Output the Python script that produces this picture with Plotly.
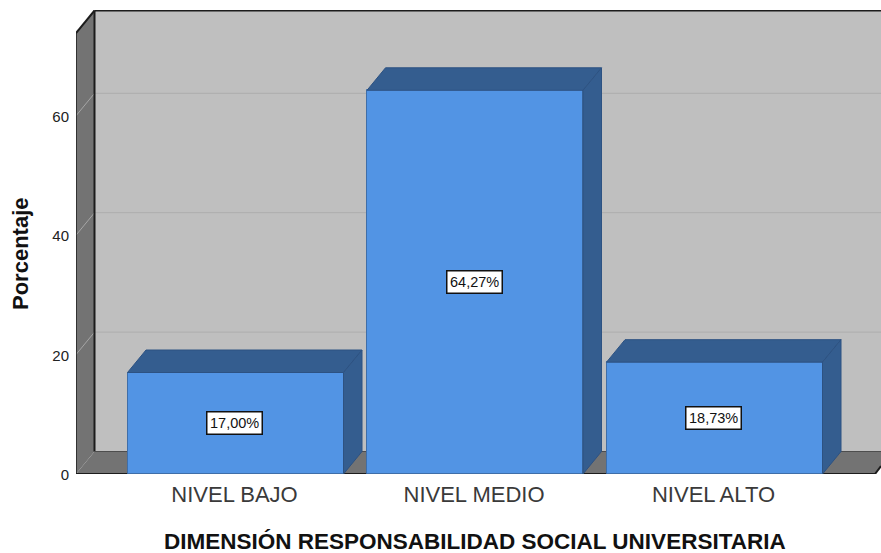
import plotly.graph_objects as go

categories = ["NIVEL BAJO", "NIVEL MEDIO", "NIVEL ALTO"]
values = [17.00, 64.27, 18.73]
labels = ["17,00%", "64,27%", "18,73%"]
y_ticks = [0, 20, 40, 60]
x_title = "DIMENSIÓN RESPONSABILIDAD SOCIAL UNIVERSITARIA"
y_title = "Porcentaje"

W, H = 881, 553
ML, MR, MT, MB = 76, 0, 10, 79
PX_PER_CAT = 239.5
PX_PER_UNIT = 5.97
X_MIN = -(235.5 - ML) / PX_PER_CAT
X_MAX = X_MIN + (W - ML - MR) / PX_PER_CAT
Y_MAX = (H - MB - MT) / PX_PER_UNIT
DX = 18.5 / PX_PER_CAT
DY = 22.5 / PX_PER_UNIT
BAR_W = 216 / 239.5
WALL_TOP = (H - MB - 33) / PX_PER_UNIT

BLUE, DARK, WALL, SIDE = "#5294e4", "#345d8f", "#bfbfbf", "#737373"
path = lambda pts: "M" + " L".join(f"{x},{y}" for x, y in pts) + " Z"
below = dict(layer="below", xref="x", yref="y")

shapes = [
    dict(type="path", path=path([(X_MIN + DX, DY), (X_MAX, DY), (X_MAX, WALL_TOP + DY), (X_MIN + DX, WALL_TOP + DY)]),
         fillcolor=WALL, line=dict(width=0), **below),
    dict(type="path", path=path([(X_MIN, 0), (X_MIN + DX, DY), (X_MIN + DX, WALL_TOP + DY), (X_MIN, WALL_TOP)]),
         fillcolor=SIDE, line=dict(width=0), **below),
    dict(type="path", path=path([(X_MIN, 0), (X_MIN + DX, DY), (X_MAX, DY), (X_MAX, 8 / PX_PER_UNIT), (X_MAX - 6 / PX_PER_CAT, 0)]),
         fillcolor=SIDE, line=dict(width=0), **below),
]
for t in y_ticks[1:]:
    shapes.append(dict(type="line", x0=X_MIN, y0=t, x1=X_MIN + DX, y1=t + DY, line=dict(color="#a6a6a6", width=1), **below))
    shapes.append(dict(type="line", x0=X_MIN + DX, y0=t + DY, x1=X_MAX, y1=t + DY, line=dict(color="#adadad", width=1), **below))
ink = "#1c1c1c"
shapes += [
    dict(type="line", x0=X_MIN + DX, y0=DY, x1=X_MIN + DX, y1=WALL_TOP + DY, line=dict(color=ink, width=2), **below),
    dict(type="line", x0=X_MIN + DX, y0=WALL_TOP + DY, x1=X_MAX, y1=WALL_TOP + DY, line=dict(color=ink, width=2), **below),
    dict(type="line", x0=X_MIN, y0=WALL_TOP, x1=X_MIN + DX, y1=WALL_TOP + DY, line=dict(color=ink, width=2), **below),
    dict(type="line", x0=X_MIN, y0=0, x1=X_MIN, y1=WALL_TOP, line=dict(color=ink, width=1.5), **below),
    dict(type="line", x0=X_MIN, y0=0, x1=X_MAX - 6 / PX_PER_CAT, y1=0, line=dict(color=ink, width=2), **below),
    dict(type="line", x0=X_MAX - 6 / PX_PER_CAT, y0=0, x1=X_MAX, y1=8 / PX_PER_UNIT, line=dict(color=ink, width=2), **below),
    dict(type="line", x0=X_MIN + DX, y0=DY, x1=X_MAX, y1=DY, line=dict(color="#4d4d4d", width=1), **below),
]

fig = go.Figure()
fig.add_bar(x=list(range(len(values))), y=values, width=BAR_W, marker=dict(color=BLUE, line=dict(color="#3f6ea8", width=1)),
            hoverinfo="skip", showlegend=False)
edge = dict(color="#2d5282", width=1)
for i, v in enumerate(values):
    l, r = i - BAR_W / 2, i + BAR_W / 2
    fig.add_scatter(x=[l, l + DX, r + DX, r, l], y=[v, v + DY, v + DY, v, v], fill="toself", fillcolor=DARK,
                    mode="lines", line=edge, hoverinfo="skip", showlegend=False)
    fig.add_scatter(x=[r, r + DX, r + DX, r, r], y=[0, DY, v + DY, v, 0], fill="toself", fillcolor=DARK,
                    mode="lines", line=edge, hoverinfo="skip", showlegend=False)
    fig.add_annotation(x=i, y=v / 2, xshift=-1, text=labels[i], showarrow=False, font=dict(family="Liberation Sans", size=14.5, color="#111111"),
                       bgcolor="white", bordercolor="#111111", borderwidth=1.5, borderpad=2.5)

# Axis titles, placed to sit off-centre from the plot area as in the reference
fig.add_annotation(xref="paper", yref="paper", x=(475 - ML) / (W - ML), y=-(541 - (H - MB)) / (H - MT - MB), text=f"<b>{x_title}</b>",
                   showarrow=False, font=dict(size=22.5, color="#111111"), xanchor="center", yanchor="middle")
fig.add_annotation(xref="paper", yref="paper", x=-(ML - 20) / (W - ML), y=((H - MB) - 254) / (H - MT - MB), text=f"<b>{y_title}</b>",
                   textangle=-90, showarrow=False, font=dict(size=22, color="#111111"), xanchor="center", yanchor="middle")

fig.update_layout(
    width=W, height=H, margin=dict(l=ML, r=MR, t=MT, b=MB), paper_bgcolor="white", plot_bgcolor="white",
    shapes=shapes, font=dict(family="Liberation Sans"), bargap=0,
    xaxis=dict(range=[X_MIN, X_MAX], tickvals=list(range(len(categories))), ticktext=categories, showgrid=False, zeroline=False,
               showline=False, ticks="", tickfont=dict(size=22, color="#3a3a3a"), ticklabelstandoff=5, ticklabelshift=-1),
    yaxis=dict(range=[0, Y_MAX], tickvals=y_ticks, showgrid=False, zeroline=False, showline=False, ticks="",
               tickfont=dict(size=15, color="#222222"), ticklabelstandoff=6, ticklabelshift=1),
)
fig.write_html("out.html", post_script="document.body.style.margin='0';", config=dict(displayModeBar=False))
